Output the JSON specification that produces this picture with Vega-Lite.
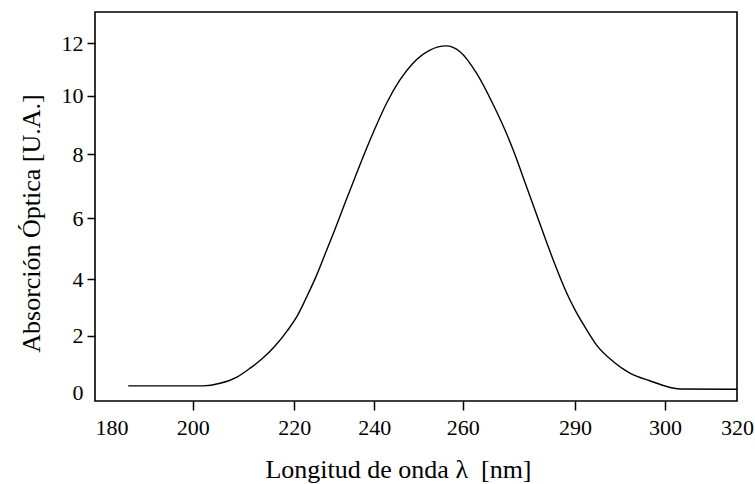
{
  "$schema": "https://vega.github.io/schema/vega-lite/v6.json",
  "width": 642,
  "height": 389,
  "autosize": {"type": "none"},
  "padding": {"left": 95, "top": 12, "right": 18, "bottom": 83},
  "background": "white",
  "config": {
    "view": {"stroke": "black", "strokeWidth": 1.6},
    "axis": {
      "grid": false,
      "domain": false,
      "tickColor": "black",
      "tickWidth": 1.5,
      "labelColor": "black",
      "labelFont": "Liberation Serif",
      "labelFontSize": 22,
      "titleColor": "black",
      "titleFont": "Liberation Serif",
      "titleFontSize": 26,
      "titleFontWeight": "normal",
      "labelOverlap": false,
      "labelFlush": false
    }
  },
  "data": {
    "values": [
      {"lambda": 186.8, "abs": 0.24},
      {"lambda": 202.0, "abs": 0.24},
      {"lambda": 205.4, "abs": 0.33},
      {"lambda": 208.7, "abs": 0.55},
      {"lambda": 211.3, "abs": 0.86},
      {"lambda": 213.6, "abs": 1.18},
      {"lambda": 216.2, "abs": 1.64},
      {"lambda": 218.6, "abs": 2.17},
      {"lambda": 220.7, "abs": 2.69},
      {"lambda": 223.2, "abs": 3.40},
      {"lambda": 225.7, "abs": 4.16},
      {"lambda": 227.7, "abs": 4.82},
      {"lambda": 230.2, "abs": 5.65},
      {"lambda": 232.7, "abs": 6.48},
      {"lambda": 235.2, "abs": 7.28},
      {"lambda": 237.7, "abs": 8.07},
      {"lambda": 240.2, "abs": 8.89},
      {"lambda": 242.8, "abs": 9.75},
      {"lambda": 245.8, "abs": 10.60},
      {"lambda": 248.8, "abs": 11.25},
      {"lambda": 252.6, "abs": 11.74},
      {"lambda": 256.2, "abs": 11.90},
      {"lambda": 259.4, "abs": 11.68},
      {"lambda": 263.7, "abs": 10.86},
      {"lambda": 268.2, "abs": 9.68},
      {"lambda": 271.3, "abs": 8.82},
      {"lambda": 274.0, "abs": 7.97},
      {"lambda": 276.6, "abs": 7.13},
      {"lambda": 279.3, "abs": 6.26},
      {"lambda": 282.0, "abs": 5.35},
      {"lambda": 284.7, "abs": 4.46},
      {"lambda": 287.3, "abs": 3.65},
      {"lambda": 290.0, "abs": 2.91},
      {"lambda": 291.1, "abs": 2.31},
      {"lambda": 292.4, "abs": 1.67},
      {"lambda": 294.3, "abs": 1.08},
      {"lambda": 296.1, "abs": 0.69},
      {"lambda": 298.3, "abs": 0.42},
      {"lambda": 304.2, "abs": 0.13},
      {"lambda": 320.0, "abs": 0.12}
    ]
  },
  "mark": {"type": "line", "color": "black", "strokeWidth": 1.4, "interpolate": "monotone"},
  "encoding": {
    "x": {
      "field": "lambda",
      "type": "quantitative",
      "scale": {
        "domain": [180, 200, 220, 240, 260, 290, 300, 320],
        "range": [0, 97.7, 199.3, 279.3, 367.7, 480, 570, 642],
        "nice": false,
        "zero": false
      },
      "axis": {
        "values": [180, 200, 220, 240, 260, 290, 300, 320],
        "title": "Longitud de onda λ\u00a0 [nm]",
        "tickSize": 9,
        "tickOpacity": {"condition": {"test": "datum.value == 180 || datum.value == 320", "value": 0}, "value": 1},
        "labelAlign": {"condition": {"test": "datum.value == 180", "value": "left"}, "value": "center"},
        "labelPadding": 7,
        "titleX": 303,
        "titleY": 55,
        "titleAlign": "center",
        "titleBaseline": "top"
      }
    },
    "y": {
      "field": "abs",
      "type": "quantitative",
      "scale": {
        "domain": [-0.3, 0, 2, 4, 6, 8, 10, 12, 13.2],
        "range": [389, 380.7, 323.7, 267, 206.3, 142, 83.7, 31.3, 0],
        "nice": false,
        "zero": false
      },
      "axis": {
        "values": [0, 2, 4, 6, 8, 10, 12],
        "title": "Absorción Óptica [U.A.]",
        "tickSize": 8,
        "tickOpacity": {"condition": {"test": "datum.value == 0", "value": 0}, "value": 1},
        "labelPadding": 4,
        "titleX": -64,
        "titleY": 211,
        "titleAngle": 270,
        "titleAlign": "center",
        "titleBaseline": "middle"
      }
    }
  }
}
